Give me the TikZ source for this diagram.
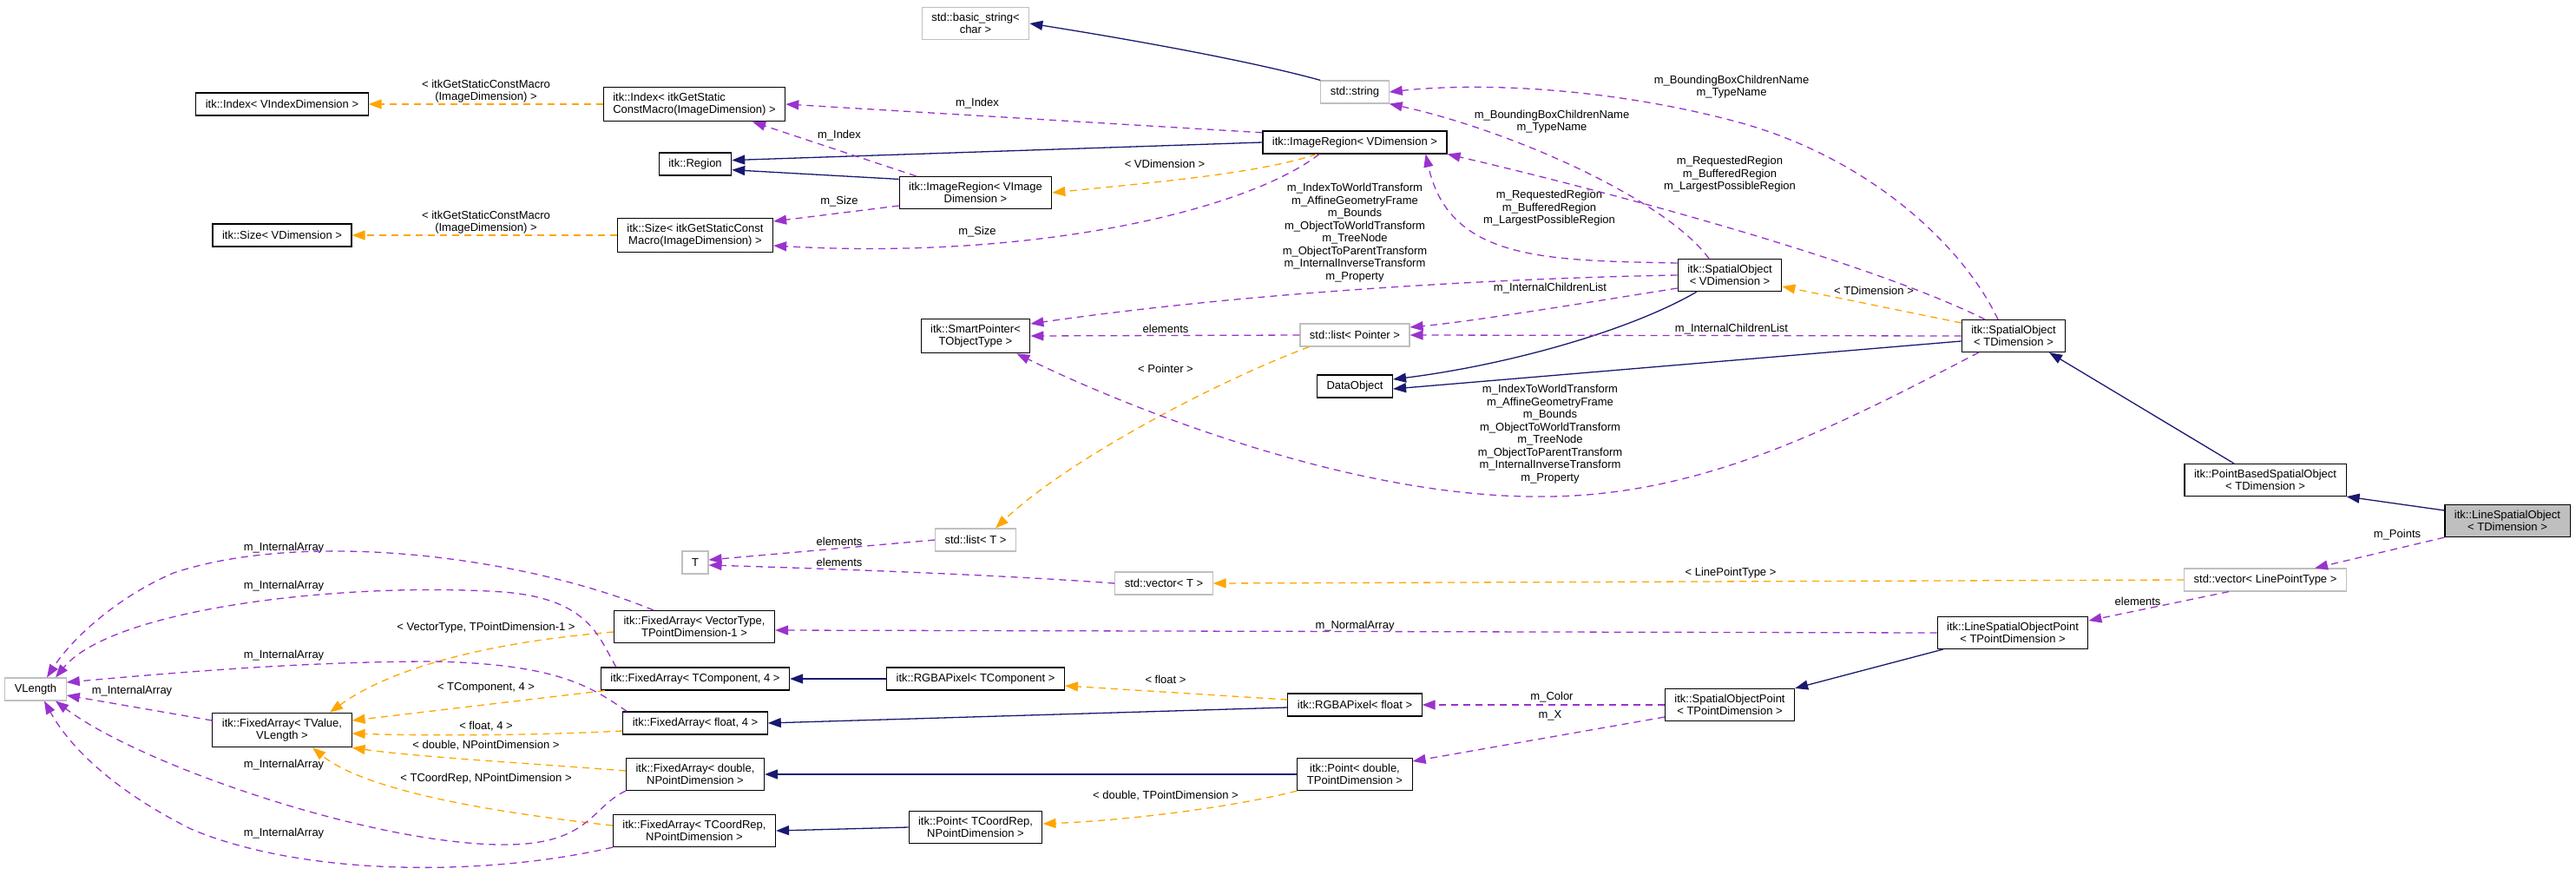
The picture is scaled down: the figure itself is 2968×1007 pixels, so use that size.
\documentclass[tikz,border=0pt]{standalone}
\usepackage{fontspec}
\setmainfont{Liberation Sans}
\usepackage{tikz}
\usetikzlibrary{arrows.meta}
\definecolor{navyb}{HTML}{191970}
\definecolor{purp}{HTML}{9A32CD}
\definecolor{orng}{HTML}{FFA500}
\definecolor{lgray}{HTML}{BFBFBF}
\newcommand{\dxfont}{\fontsize{13}{14.5}\selectfont}
\tikzset{
  cls/.style={draw=black,line width=1.1pt,fill=white,align=center,inner xsep=11pt,inner ysep=6.5pt,minimum height=26pt,font=\dxfont},
  ext/.style={cls,draw=lgray},
  cur/.style={cls,fill=lgray},
  lbl/.style={align=center,inner sep=0pt,font=\dxfont},
  inh/.style={draw=navyb,line width=1.3pt,-{Triangle[length=15pt,width=11pt]}},
  use/.style={draw=purp,line width=1.3pt,dash pattern=on 8pt off 6pt,-{Triangle[length=15pt,width=11pt]}},
  tpl/.style={use,draw=orng}
}

\begin{document}
\begin{tikzpicture}[x=1pt,y=-1pt]
\useasboundingbox (0,0) rectangle (2968,1007);
% classes
\node[ext] (bstr) at (1124,27) {std::basic\_string<\\char >};
\node[ext] (str) at (1561,106) {std::string};
\node[cls,align=left] (idxG) at (800,120) {itk::Index< itkGetStatic\\ConstMacro(ImageDimension) >};
\node[cls] (idxV) at (325,120) {itk::Index< VIndexDimension >};
\node[cls] (region) at (801,189) {itk::Region};
\node[cls] (irV) at (1561,164) {itk::ImageRegion< VDimension >};
\node[cls] (irVI) at (1124,222) {itk::ImageRegion< VImage\\Dimension >};
\node[cls] (sizeV) at (325,271) {itk::Size< VDimension >};
\node[cls] (sizeG) at (801,271) {itk::Size< itkGetStaticConst\\Macro(ImageDimension) >};
\node[cls] (soV) at (1993,317) {itk::SpatialObject\\< VDimension >};
\node[cls] (soT) at (2320,387) {itk::SpatialObject\\< TDimension >};
\node[cls] (smart) at (1124,387) {itk::SmartPointer<\\TObjectType >};
\node[ext] (lstP) at (1561,386) {std::list< Pointer >};
\node[cls] (dobj) at (1561,445) {DataObject};
\node[cls] (pbso) at (2610,553) {itk::PointBasedSpatialObject\\< TDimension >};
\node[cur] (lso) at (2889,600) {itk::LineSpatialObject\\< TDimension >};
\node[ext] (lstT) at (1124,622) {std::list< T >};
\node[ext] (T) at (801,648) {T};
\node[ext] (vecT) at (1341,672) {std::vector< T >};
\node[ext] (vecLP) at (2610,668) {std::vector< LinePointType >};
\node[cls] (lsop) at (2319,729) {itk::LineSpatialObjectPoint\\< TPointDimension >};
\node[cls] (faVec) at (800,722) {itk::FixedArray< VectorType,\\TPointDimension-1 >};
\node[cls] (faTC) at (801,782) {itk::FixedArray< TComponent, 4 >};
\node[cls] (rgbTC) at (1124,782) {itk::RGBAPixel< TComponent >};
\node[ext] (vlen) at (41,794) {VLength};
\node[cls] (rgbF) at (1561,812) {itk::RGBAPixel< float >};
\node[cls] (sop) at (1993,812) {itk::SpatialObjectPoint\\< TPointDimension >};
\node[cls] (faF) at (801,833) {itk::FixedArray< float, 4 >};
\node[cls] (faTV) at (325,841) {itk::FixedArray< TValue,\\VLength >};
\node[cls] (faD) at (801,892) {itk::FixedArray< double,\\NPointDimension >};
\node[cls] (ptD) at (1561,892) {itk::Point< double,\\TPointDimension >};
\node[cls] (ptCR) at (1124,953) {itk::Point< TCoordRep,\\NPointDimension >};
\node[cls] (faCR) at (800,957) {itk::FixedArray< TCoordRep,\\NPointDimension >};
% labels
\node[lbl] (lIdx) at (560,105) {< itkGetStaticConstMacro\\(ImageDimension) >};
\node[lbl] (lSz) at (560,256) {< itkGetStaticConstMacro\\(ImageDimension) >};
\node[lbl] (lIdxA) at (1126,119) {m\_Index};
\node[lbl] (lIdxB) at (967,156) {m\_Index};
\node[lbl] (lSzA) at (967,232) {m\_Size};
\node[lbl] (lSzB) at (1126,267) {m\_Size};
\node[lbl] (lVD) at (1342,189) {< VDimension >};
\node[lbl] (lA) at (1561,268) {m\_IndexToWorldTransform\\m\_AffineGeometryFrame\\m\_Bounds\\m\_ObjectToWorldTransform\\m\_TreeNode\\m\_ObjectToParentTransform\\m\_InternalInverseTransform\\m\_Property};
\node[lbl] (lB) at (1786,500) {m\_IndexToWorldTransform\\m\_AffineGeometryFrame\\m\_Bounds\\m\_ObjectToWorldTransform\\m\_TreeNode\\m\_ObjectToParentTransform\\m\_InternalInverseTransform\\m\_Property};
\node[lbl] (lBBa) at (1788,140) {m\_BoundingBoxChildrenName\\m\_TypeName};
\node[lbl] (lBBb) at (1995,100) {m\_BoundingBoxChildrenName\\m\_TypeName};
\node[lbl] (lRRa) at (1785,240) {m\_RequestedRegion\\m\_BufferedRegion\\m\_LargestPossibleRegion};
\node[lbl] (lRRb) at (1993,201) {m\_RequestedRegion\\m\_BufferedRegion\\m\_LargestPossibleRegion};
\node[lbl] (lICa) at (1786,332) {m\_InternalChildrenList};
\node[lbl] (lICb) at (1995,379) {m\_InternalChildrenList};
\node[lbl] (lTD) at (2159,335) {< TDimension >};
\node[lbl] (lPtr) at (1343,425) {< Pointer >};
\node[lbl] (lLPT) at (1994,660) {< LinePointType >};
\node[lbl] (lPts) at (2762,616) {m\_Points};
\node[lbl] (lNA) at (1561,721) {m\_NormalArray};
\node[lbl] (lFlt) at (1343,783) {< float >};
\node[lbl] (lCol) at (1788,803) {m\_Color};
\node[lbl] (lX) at (1786,824) {m\_X};
\node[lbl] (lDTP) at (1343,917) {< double, TPointDimension >};
\node[lbl] (lVT) at (560,723) {< VectorType, TPointDimension-1 >};
\node[lbl] (lTC4) at (560,792) {< TComponent, 4 >};
\node[lbl] (lF4) at (560,837) {< float, 4 >};
\node[lbl] (lDNP) at (560,859) {< double, NPointDimension >};
\node[lbl] (lCRN) at (560,897) {< TCoordRep, NPointDimension >};
\foreach \x/\y/\n in {1343/379/1,967/624/2,967/648/3,2463/693/4}{\node[lbl] (lEl\n) at (\x,\y) {elements};}
\foreach \x/\y/\n in {327/631/1,327/675/2,327/755/3,152/796/4,327/881/5,327/960/6}{\node[lbl] (lIA\n) at (\x,\y) {m\_InternalArray};}
% inheritance
\draw[inh] (str.north west) .. controls (1440,70) and (1300,45) .. (bstr.east);
\draw[inh] (irV.west) -- (region.6);
\draw[inh] (irVI.170) -- (region.-9);
\draw[inh] ([xshift=-38pt]soV.south) .. controls (1880,380) and (1740,420) .. ([yshift=8pt]dobj.east);
\draw[inh] ([yshift=-6pt]soT.west) -- ([yshift=-3pt]dobj.east);
\draw[inh] ([xshift=-36pt]pbso.north) -- ([xshift=41pt]soT.south);
\draw[inh] ([yshift=12pt]lso.west) -- (pbso.south east);
\draw[inh] ([xshift=7pt]lsop.south west) -- (sop.north east);
\draw[inh] ([yshift=-3pt]rgbF.west) -- (faF.east);
\draw[inh] (rgbTC.west) -- (faTC.east);
\draw[inh] (ptD.west) -- (faD.east);
\draw[inh] (ptCR.west) -- (faCR.east);
% templates
\draw[tpl] (idxG.west) -- (idxV.east);
\draw[tpl] (sizeG.west) -- (sizeV.east);
\draw[tpl] ([xshift=-44pt]irV.south) .. controls (1450,200) and (1330,210) .. (irVI.east);
\draw[tpl] ([yshift=15pt]soT.west) -- ([yshift=-13pt]soV.east);
\draw[tpl] ([xshift=11pt]lstP.south west) .. controls (1400,440) and (1230,530) .. ([xshift=23pt]lstT.north);
\draw[tpl] (vecLP.west) -- (vecT.east);
\draw[tpl] ([yshift=6pt]rgbF.west) -- ([yshift=-8pt]rgbTC.east);
\draw[tpl] (ptD.south west) .. controls (1420,930) and (1300,945) .. ([yshift=4pt]ptCR.east);
\draw[tpl] ([yshift=-6pt]faVec.west) .. controls (560,740) and (450,770) .. ([xshift=55pt]faTV.north);
\draw[tpl] ([xshift=5pt]faTC.south west) -- ([yshift=11pt]faTV.east);
\draw[tpl] ([yshift=-9pt]faF.west) .. controls (620,847) and (500,848) .. ([yshift=-4pt]faTV.east);
\draw[tpl] ([yshift=4pt]faD.west) .. controls (620,880) and (480,872) .. (faTV.south east);
\draw[tpl] ([yshift=6pt]faCR.west) .. controls (560,935) and (420,910) .. ([xshift=35pt]faTV.south);
% members
\draw[use] (irV.174) -- (idxG.east);
\draw[use] ([xshift=20pt]irVI.north west) -- ([xshift=67pt]idxG.south);
\draw[use] ([yshift=-15pt]irVI.west) -- ([yshift=16pt]sizeG.east);
\draw[use] ([xshift=-41pt]irV.south) .. controls (1440,240) and (1200,300) .. ([yshift=-12pt]sizeG.east);
\draw[use] ([xshift=-24pt]soV.north) .. controls (1920,230) and (1740,150) .. (str.south east);
\draw[use] ([yshift=14pt]soV.west) .. controls (1780,300) and (1670,300) .. ([xshift=-25pt]irV.south east);
\draw[use] (soV.west) .. controls (1750,320) and (1450,335) .. ([yshift=14pt]smart.east);
\draw[use] ([yshift=-15pt]soV.west) .. controls (1850,345) and (1700,370) .. ([yshift=9pt]lstP.east);
\draw[use] ([xshift=-18pt]soT.north) .. controls (2260,280) and (2150,180) .. (2000,140) .. controls (1850,100) and (1700,95) .. (str.east);
\draw[use] ([xshift=-33pt]soT.north) .. controls (2150,300) and (1850,220) .. (irV.south east);
\draw[use] (soT.west) -- (lstP.east);
\draw[use] ([xshift=20pt]soT.south west) .. controls (2100,500) and (1950,575) .. (1765,572) .. controls (1550,570) and (1300,470) .. ([xshift=-16pt]smart.south east);
\draw[use] (lstP.west) -- (smart.east);
\draw[use] (lstT.west) -- ([yshift=3pt]T.east);
\draw[use] (vecT.west) .. controls (1150,662) and (950,655) .. ([yshift=-3pt]T.east);
\draw[use] (lso.south west) -- ([xshift=57pt]vecLP.north);
\draw[use] ([xshift=-42pt]vecLP.south) -- ([yshift=14pt]lsop.east);
\draw[use] (lsop.west) -- ([yshift=-4pt]faVec.east);
\draw[use] (sop.west) -- (rgbF.east);
\draw[use] ([yshift=-14pt]sop.west) -- ([yshift=15pt]ptD.east);
\draw[use] ([yshift=11pt]faTV.west) -- ([yshift=-7pt]vlen.east);
\draw[use] ([xshift=-47pt]faVec.north) .. controls (600,640) and (350,610) .. (200,660) .. controls (130,690) and (80,740) .. ([xshift=13pt]vlen.north);
\draw[use] ([xshift=18pt]faTC.north west) .. controls (690,735) and (680,690) .. (580,682) .. controls (400,670) and (130,700) .. ([xshift=23pt]vlen.north);
\draw[use] ([xshift=5pt]faF.north west) .. controls (680,790) and (640,765) .. (500,762) .. controls (350,762) and (200,775) .. ([yshift=8pt]vlen.east);
\draw[use] (faD.south west) .. controls (680,930) and (680,975) .. (574,973) .. controls (420,970) and (160,880) .. ([xshift=23pt]vlen.south);
\draw[use] (faCR.south west) .. controls (560,1010) and (350,1010) .. (220,955) .. controls (130,910) and (80,860) .. ([xshift=10pt]vlen.south);
\end{tikzpicture}
\end{document}
